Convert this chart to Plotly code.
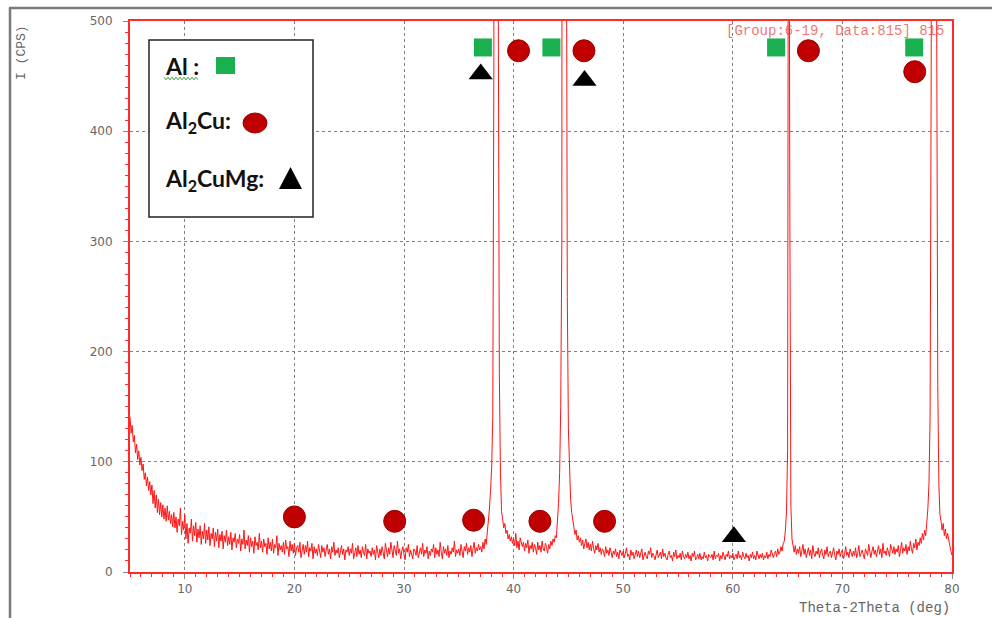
import plotly.graph_objects as go

# ---------------- data ----------------
x_start = 5.0
x_step = 0.1
intensity = [
    141, 126, 133, 118, 124, 108, 116, 102, 110, 97,      # 5
    104, 92, 98, 84, 90, 78, 86, 74, 82, 70,              # 6
    79, 62, 74, 58, 70, 54, 66, 52, 63, 50,               # 7
    61, 48, 58, 46, 60, 47, 55, 44, 52, 41,               # 8
    54, 40, 50, 36, 48, 42, 58, 34, 46, 38,               # 9
    52, 30, 44, 26, 40, 35, 48, 28, 42, 33,               # 10
    45, 27, 39, 31, 42, 25, 37, 30, 44, 26,               # 11
    38, 29, 41, 24, 35, 30, 40, 23, 36, 28,               # 12
    39, 22, 34, 28, 37, 21, 33, 27, 38, 24,               # 13
    32, 25, 36, 20, 31, 27, 35, 22, 30, 26,               # 14
    34, 19, 30, 25, 38, 21, 29, 24, 33, 18,               # 15
    31, 23, 28, 17, 32, 24, 27, 20, 35, 22,               # 16
    28, 18, 30, 23, 26, 16, 31, 21, 27, 19,               # 17
    30, 17, 25, 22, 33, 15, 26, 20, 24, 18,               # 18
    27, 16, 29, 21, 23, 14, 28, 19, 25, 17,               # 19
    26, 15, 22, 24, 18, 27, 13, 21, 25, 16,               # 20
    24, 18, 28, 14, 22, 19, 26, 12, 23, 17,               # 21
    21, 15, 25, 19, 13, 24, 18, 22, 14, 20,               # 22
    25, 16, 21, 12, 23, 18, 27, 15, 20, 17,               # 23
    22, 13, 19, 24, 16, 21, 11, 20, 18, 23,               # 24
    15, 21, 17, 26, 12, 19, 22, 14, 24, 16,               # 25
    20, 13, 23, 18, 15, 25, 12, 21, 17, 19,               # 26
    14, 22, 16, 20, 11, 24, 18, 13, 21, 15,               # 27
    23, 17, 12, 26, 19, 14, 22, 16, 27, 18,               # 28
    13, 24, 20, 15, 28, 17, 21, 12, 19, 23,               # 29
    16, 11, 22, 18, 25, 14, 20, 17, 12, 21,               # 30
    19, 15, 24, 13, 18, 22, 16, 26, 14, 20,               # 31
    17, 23, 12, 19, 15, 21, 18, 25, 13, 22,               # 32
    16, 20, 14, 27, 18, 12, 23, 17, 21, 15,               # 33
    24, 13, 19, 16, 22, 18, 28, 14, 20, 17,               # 34
    21, 15, 25, 18, 13, 23, 19, 26, 16, 22,               # 35
    18, 24, 14, 21, 27, 17, 22, 19, 25, 20,               # 36
    23, 18, 27, 21, 30, 25, 36, 44, 58, 75,               # 37
    95, 140, 460, 2200, 3500, 2900, 520, 180, 90, 55,     # 38
    48, 40, 44, 35, 38, 30, 34, 28, 32, 26,               # 39
    30, 24, 35, 22, 28, 20, 31, 25, 23, 27,               # 40
    19, 26, 22, 29, 17, 24, 21, 27, 18, 25,               # 41
    22, 16, 27, 20, 24, 18, 28, 21, 19, 26,               # 42
    23, 17, 25, 21, 28, 24, 30, 27, 33, 31,               # 43
    45, 62, 90, 150, 300, 1500, 3800, 3600, 700, 250,     # 44
    130, 85, 66, 54, 46, 40, 34, 38, 29, 33,              # 45
    27, 31, 24, 29, 21, 26, 30, 22, 27, 20,               # 46
    25, 19, 28, 21, 17, 24, 20, 26, 18, 22,               # 47
    16, 21, 19, 14, 23, 17, 20, 15, 22, 18,               # 48
    13, 19, 16, 21, 14, 18, 12, 20, 17, 15,               # 49
    19, 13, 17, 22, 14, 16, 11, 20, 15, 18,               # 50
    12, 17, 20, 14, 19, 13, 16, 21, 11, 15,               # 51
    18, 14, 12, 19, 16, 22, 13, 17, 15, 11,               # 52
    16, 20, 13, 15, 18, 12, 21, 14, 17, 13,               # 53
    11, 16, 19, 13, 15, 10, 18, 14, 20, 12,               # 54
    15, 13, 17, 11, 19, 14, 12, 16, 13, 18,               # 55
    12, 15, 10, 17, 14, 19, 11, 13, 16, 12,               # 56
    17, 11, 14, 12, 18, 13, 15, 10, 16, 14,               # 57
    13, 16, 11, 19, 12, 15, 14, 17, 10, 15,               # 58
    12, 18, 13, 11, 16, 14, 19, 12, 15, 13,               # 59
    17, 11, 14, 16, 12, 19, 13, 15, 11, 18,               # 60
    14, 12, 17, 13, 15, 10, 16, 13, 18, 12,               # 61
    15, 11, 19, 14, 12, 16, 13, 17, 11, 15,               # 62
    13, 18, 12, 16, 14, 20, 15, 13, 17, 19,               # 63
    14, 21, 16, 18, 23, 19, 26, 28, 38, 55,               # 64
    110, 900, 340, 60, 30, 22, 18, 24, 16, 21,            # 65
    17, 23, 14, 19, 25, 16, 21, 13, 18, 22,               # 66
    15, 20, 12, 24, 17, 14, 19, 16, 22, 13,               # 67
    18, 21, 15, 12, 20, 16, 23, 14, 17, 19,               # 68
    13, 17, 22, 15, 11, 19, 16, 21, 14, 18,               # 69
    20, 12, 16, 23, 15, 18, 13, 21, 17, 14,               # 70
    19, 15, 22, 13, 17, 24, 14, 18, 20, 16,               # 71
    12, 21, 17, 15, 25, 18, 13, 19, 23, 16,               # 72
    20, 14, 18, 24, 16, 21, 13, 26, 17, 19,               # 73
    15, 22, 18, 14, 25, 19, 17, 23, 16, 21,               # 74
    18, 24, 14, 20, 27, 17, 22, 19, 25, 16,               # 75
    23, 19, 28, 21, 17, 26, 22, 30, 20, 27,               # 76
    24, 31, 26, 35, 29, 38, 33, 45, 58, 80,               # 77
    140, 450, 1400, 2300, 1800, 1100, 510, 170, 80, 52,   # 78
    46, 38, 44, 33, 39, 30, 35, 27, 24, 19,               # 79
    15,                                                   # 80
]
two_theta = [round(x_start + i * x_step, 1) for i in range(len(intensity))]

al_x = [37.2, 43.45, 63.95, 76.55]
al_y = [476, 476, 476, 476]
al2cu_x = [40.45, 46.42, 66.9, 76.6, 20.0, 29.15, 36.35, 42.4, 48.3]
al2cu_y = [473, 473, 473, 454, 50, 46, 47, 46, 46]
al2cumg_x = [37.0, 46.47, 60.1]
al2cumg_y = [452, 446, 32]

x_ticks = [10, 20, 30, 40, 50, 60, 70, 80]
y_ticks = [0, 100, 200, 300, 400, 500]

# ---------------- layout helpers ----------------
W, H = 992, 618
ML, MR, MT, MB = 130, 40, 21, 46
PW, PH = W - ML - MR, H - MT - MB


def px(x):
    return (x - ML) / PW


def py(y):
    return (H - MB - y) / PH


GREEN = "#1aaf4f"
RED_M = "#c00000"
LINE_RED = "#ff1414"
AX_RED = "#ff2a2a"

fig = go.Figure()
fig.add_trace(go.Scatter(x=two_theta, y=intensity, mode="lines",
                         line=dict(color=LINE_RED, width=1), hoverinfo="skip"))
fig.add_trace(go.Scatter(x=al_x, y=al_y, mode="markers",
                         marker=dict(symbol="square", size=18, color=GREEN,
                                     line=dict(width=0))))
fig.add_trace(go.Scatter(x=al2cu_x, y=al2cu_y, mode="markers",
                         marker=dict(symbol="circle", size=22, color=RED_M,
                                     line=dict(width=1, color="#9a0000"))))
fig.add_trace(go.Scatter(x=al2cumg_x, y=al2cumg_y, mode="markers",
                         marker=dict(symbol="triangle-up", size=21, color="black",
                                     line=dict(width=0))))

shapes = []
# outer screenshot frame
shapes.append(dict(type="line", xref="paper", yref="paper", x0=px(9), x1=px(W), y0=py(8), y1=py(8),
                   line=dict(color="#7a7a7a", width=2.5)))
shapes.append(dict(type="line", xref="paper", yref="paper", x0=px(10), x1=px(10), y0=py(8), y1=py(H),
                   line=dict(color="#7a7a7a", width=2.5)))
# legend box
shapes.append(dict(type="rect", xref="paper", yref="paper", x0=px(149), x1=px(313), y0=py(217), y1=py(40),
                   fillcolor="white", line=dict(color="#222", width=1.5)))
shapes.append(dict(type="rect", xref="paper", yref="paper", x0=px(216), x1=px(235), y0=py(74), y1=py(57),
                   fillcolor=GREEN, line=dict(width=0)))
shapes.append(dict(type="circle", xref="paper", yref="paper", x0=px(243), x1=px(267), y0=py(133), y1=py(113),
                   fillcolor=RED_M, line=dict(color="#9a0000", width=1)))
shapes.append(dict(type="path", xref="paper", yref="paper",
                   path=f"M{px(279)},{py(189)} L{px(302)},{py(189)} L{px(290.5)},{py(167)} Z",
                   fillcolor="black", line=dict(width=0)))
# wavy spell-check underline under "Al :"
pts = []
xx = 164.0
k = 0
while xx <= 198:
    pts.append((xx, 78.5 + (1.3 if k % 2 else -1.3)))
    xx += 2.0
    k += 1
path = "M" + " L".join(f"{px(a)},{py(b)}" for a, b in pts)
shapes.append(dict(type="path", xref="paper", yref="paper", path=path,
                   line=dict(color="#3aa03a", width=1)))

annotations = []
leg_font = dict(family="Lato", size=23, color="#111")
for txt, yy in [("<b>Al :</b>", 66), ("<b>Al<sub>2</sub>Cu:</b>", 122), ("<b>Al<sub>2</sub>CuMg:</b>", 180)]:
    annotations.append(dict(xref="paper", yref="paper", x=px(163), y=py(yy), text=txt, showarrow=False,
                            xanchor="left", yanchor="middle", font=leg_font))
annotations.append(dict(xref="paper", yref="paper", x=px(952), y=py(608), text="Theta-2Theta (deg)",
                        showarrow=False, xanchor="right", yanchor="middle",
                        font=dict(family="Liberation Mono", size=14, color="#666")))
annotations.append(dict(xref="paper", yref="paper", x=px(22), y=py(53), text="I (CPS)", textangle=-90,
                        showarrow=False, xanchor="center", yanchor="middle",
                        font=dict(family="Liberation Mono", size=13, color="#666")))
annotations.append(dict(xref="paper", yref="paper", x=px(946), y=py(31), text="[Group:6-19, Data:815] 815",
                        showarrow=False, xanchor="right", yanchor="middle",
                        font=dict(family="Liberation Mono", size=14, color="rgba(235,70,70,0.75)")))

tick_font = dict(family="DejaVu Sans", size=12, color="#666")
fig.update_layout(
    width=W, height=H,
    margin=dict(l=ML, r=MR, t=MT, b=MB, pad=0),
    paper_bgcolor="white", plot_bgcolor="white",
    showlegend=False,
    shapes=shapes, annotations=annotations,
    xaxis=dict(range=[5, 80], tickvals=x_ticks, showgrid=True, gridcolor="#808080", griddash="dot",
               gridwidth=1, zeroline=False, showline=True, linecolor=AX_RED, linewidth=2, mirror=True,
               ticks="outside", ticklen=5, tickcolor="#888", tickfont=tick_font,
               minor=dict(dtick=1, tick0=5, ticks="outside", ticklen=3, tickcolor=AX_RED, showgrid=False)),
    yaxis=dict(range=[0, 500], tickvals=y_ticks, showgrid=True, gridcolor="#808080", griddash="dot",
               gridwidth=1, zeroline=False, showline=True, linecolor=AX_RED, linewidth=2, mirror=True,
               ticks="outside", ticklen=5, tickcolor="#888", tickfont=tick_font, ticklabelstandoff=8,
               minor=dict(dtick=10, tick0=0, ticks="outside", ticklen=3, tickcolor=AX_RED, showgrid=False)),
)

fig.write_html("out.html")
